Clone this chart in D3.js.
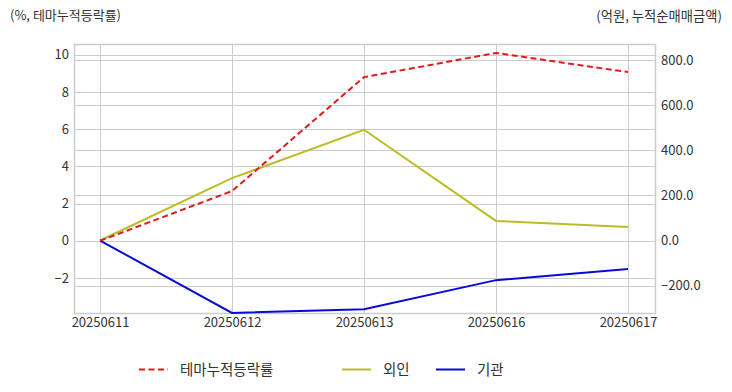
<!DOCTYPE html>
<html><head><meta charset="utf-8">
<script src="https://cdn.jsdelivr.net/npm/d3@7"></script>
<style>body{margin:0;background:#fff}svg text{font-family:"Noto Sans CJK KR","Noto Sans",sans-serif;fill:#333}</style>
</head><body>
<svg id="c" width="732" height="392"></svg>
<script>
const dates = ["20250611","20250612","20250613","20250616","20250617"];
const themeRate = [0, 2.67, 8.79, 10.09, 9.06];
const foreign = [0, 277, 492, 87, 60];
const institution = [0, -322, -305, -176, -127];
const leftTicks = [-2, 0, 2, 4, 6, 8, 10];
const rightTicks = [-200, 0, 200, 400, 600, 800];
const leftDomain = [-3.88, 10.57];
const rightDomain = [-322, 873];

const svg = d3.select("#c");
const L = 74, R = 655, T = 44, B = 313;
const x = d3.scalePoint().domain(dates).range([100, 628]);
const yl = d3.scaleLinear().domain(leftDomain).range([B, T]);
const yr = d3.scaleLinear().domain(rightDomain).range([B, T]);
const grid = "#cccccc";

const g = svg.append("g");
g.selectAll(".gl").data(leftTicks).join("line")
  .attr("x1", L).attr("x2", R).attr("y1", d => Math.round(yl(d)) + 0.5).attr("y2", d => Math.round(yl(d)) + 0.5)
  .attr("stroke", grid).attr("stroke-width", 1);
g.selectAll(".gr").data(rightTicks).join("line")
  .attr("x1", L).attr("x2", R).attr("y1", d => Math.round(yr(d)) + 0.5).attr("y2", d => Math.round(yr(d)) + 0.5)
  .attr("stroke", grid).attr("stroke-width", 1);
g.selectAll(".gx").data(dates).join("line")
  .attr("y1", T).attr("y2", B).attr("x1", d => Math.round(x(d)) + 0.5).attr("x2", d => Math.round(x(d)) + 0.5)
  .attr("stroke", grid).attr("stroke-width", 1);

svg.append("rect").attr("x", L + 0.5).attr("y", T + 0.5).attr("width", R - L).attr("height", B - T)
  .attr("fill", "none").attr("stroke", grid).attr("stroke-width", 1.5);

const ax = d3.axisLeft(yl).tickValues(leftTicks).tickSize(0).tickPadding(5).tickFormat(d3.format("d"));
svg.append("g").attr("transform", `translate(${L},0)`).call(ax)
  .call(s => s.select(".domain").remove())
  .selectAll("text").style("font-size", "13px").attr("fill", "#333");
const ar = d3.axisRight(yr).tickValues(rightTicks).tickSize(0).tickPadding(6).tickFormat(d3.format(".1f"));
svg.append("g").attr("transform", `translate(${R},0)`).call(ar)
  .call(s => s.select(".domain").remove())
  .selectAll("text").style("font-size", "13px").attr("fill", "#333");
const axb = d3.axisBottom(x).tickSize(0).tickPadding(5);
svg.append("g").attr("transform", `translate(0,${B})`).call(axb)
  .call(s => s.select(".domain").remove())
  .selectAll("text").style("font-size", "13px").attr("fill", "#333");

svg.append("text").attr("x", 10).attr("y", 20).style("font-size", "13px").text("(%, 테마누적등락률)");
svg.append("text").attr("x", 722).attr("y", 21).attr("text-anchor", "end").style("font-size", "13.3px").text("(억원, 누적순매매금액)");

const lineL = d3.line().x((d, i) => x(dates[i])).y(d => yl(d));
const lineR = d3.line().x((d, i) => x(dates[i])).y(d => yr(d));
const plot = svg.append("g");
plot.append("path").attr("d", lineR(foreign)).attr("fill", "none").attr("stroke", "#bcbd22").attr("stroke-width", 2);
plot.append("path").attr("d", lineR(institution)).attr("fill", "none").attr("stroke", "#0a0ad6").attr("stroke-width", 2);
plot.append("path").attr("d", lineL(themeRate)).attr("fill", "none").attr("stroke", "#e31a1c").attr("stroke-width", 2).attr("stroke-dasharray", "6,3.5");

const legend = [
  {name: "테마누적등락률", color: "#e31a1c", dash: "6,3.5", x: 139},
  {name: "외인", color: "#bcbd22", dash: null, x: 342},
  {name: "기관", color: "#0a0ad6", dash: null, x: 436}
];
const lg = svg.append("g");
legend.forEach(d => {
  lg.append("line").attr("x1", d.x).attr("x2", d.x + 29).attr("y1", 369.5).attr("y2", 369.5)
    .attr("stroke", d.color).attr("stroke-width", 2).attr("stroke-dasharray", d.dash);
  lg.append("text").attr("x", d.x + 41).attr("y", 375).style("font-size", "14.5px").text(d.name);
});
</script>
</body></html>
